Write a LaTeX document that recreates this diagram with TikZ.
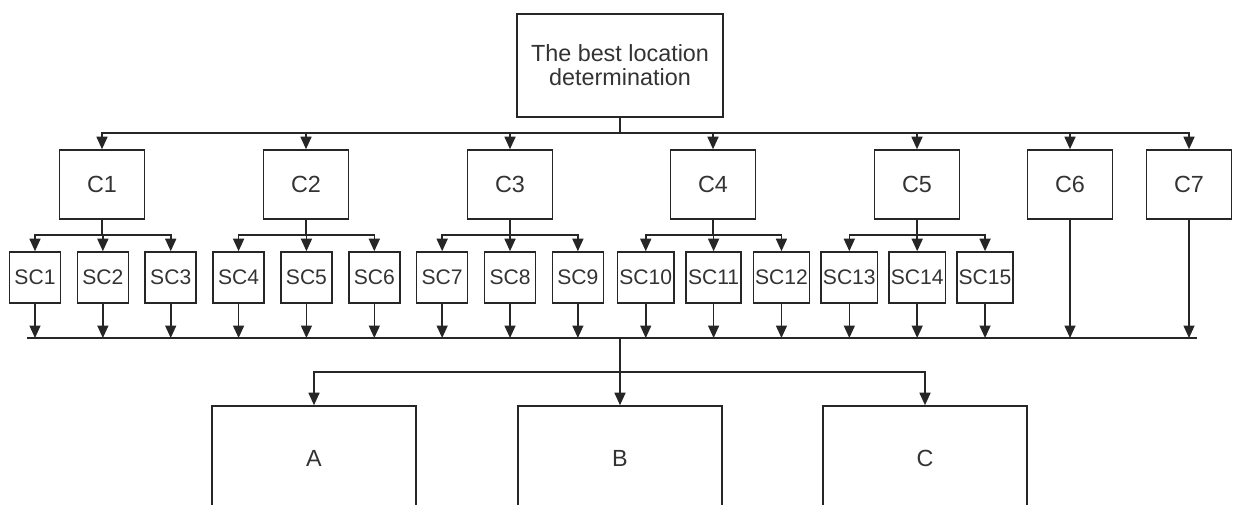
\documentclass[tikz,border=0pt]{standalone}
\usepackage{fontspec}
\setmainfont{Liberation Sans}
\usetikzlibrary{arrows.meta}
\begin{document}
\begin{tikzpicture}
        [x=0.02cm,y=-0.02cm,line width=0.9pt,color=black!85,
        >={Triangle[length=0.25cm,width=0.22cm]},
        every node/.style={font=\fontsize{13.3}{13.5}\selectfont,text=black!80},
        box/.style={draw,inner sep=1pt,align=center},
        cbox/.style={box,minimum width=1.7cm,minimum height=1.38cm},
        scbox/.style={box,minimum width=1.02cm,minimum height=1.02cm,font=\fontsize{12}{13}\selectfont},
        outbox/.style={box,minimum width=4.08cm,minimum height=2.08cm}]
        \clip (0,0) rectangle (1233,504);

        \node[box,minimum width=4.12cm,minimum height=2.06cm] (goal) at (620,65.5) {The best location\\determination};

        \foreach \i/\x in {1/102,2/306,3/510,4/713,5/917,6/1070,7/1189}
        {\node[cbox] (c\i) at (\x,184.5) {C\i};}
        \foreach \i in {1,...,15}
        {\node[scbox] (sc\i) at ({35+67.86*(\i-1)},277.5) {SC\i};}

        \node[outbox] (optA) at (314,458) {A};
        \node[outbox] (optB) at (620,458) {B};
        \node[outbox] (optC) at (925,458) {C};

        \coordinate (busC) at (0,133);
        \coordinate (busG) at (0,235);
        \coordinate (busS) at (0,338);
        \coordinate (busO) at (0,372);
        \coordinate (sL) at (27,338);
        \coordinate (sR) at (1197,338);

        \draw (goal.south) -- (goal.south |- busC);
        \foreach \i in {1,...,7}
        {\draw[->] (goal.south |- busC) -| (c\i.north);}

        \foreach \i/\a/\b/\c in {1/1/2/3,2/4/5/6,3/7/8/9,4/10/11/12,5/13/14/15}
        {\draw (c\i.south) -- (c\i.south |- busG);
         \foreach \j in {\a,\b,\c}
         {\draw[->] (c\i.south |- busG) -| (sc\j.north);}}

        \foreach \i in {1,...,15}
        {\draw[->] (sc\i.south) -- (sc\i.south |- busS);}
        \draw[->] (c6.south) -- (c6.south |- busS);
        \draw[->] (c7.south) -- (c7.south |- busS);
        \draw (sL) -- (sR);

        \draw[->] (optB.north |- busS) -- (optB.north);
        \draw[->] (optB.north |- busO) -| (optA.north);
        \draw[->] (optB.north |- busO) -| (optC.north);
      \end{tikzpicture}
\end{document}
